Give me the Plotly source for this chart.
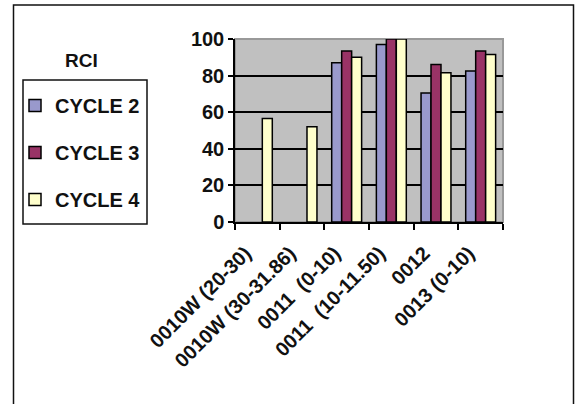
import plotly.graph_objects as go

categories = ["0010W (20-30)", "0010W (30-31.86)", "0011\u00a0 (0-10)",
              "0011\u00a0 (10-11.50)", "0012", "0013 (0-10)"]
cycle2 = [None, None, 87, 97, 70.5, 82.5]
cycle3 = [None, None, 93.5, 100, 86, 93.5]
cycle4 = [56.5, 52, 90, 100, 81.5, 91.5]
series_names = ["CYCLE 2", "CYCLE 3", "CYCLE 4"]
series_colors = ["#9999CC", "#993366", "#FFFFCC"]
y_ticks = [0, 20, 40, 60, 80, 100]

FONT = "Liberation Sans, Arial, sans-serif"
W, H = 577, 404

fig = go.Figure()
for name, vals, col in zip(series_names, [cycle2, cycle3, cycle4], series_colors):
    fig.add_trace(go.Bar(
        x=categories, y=vals, name="<b>" + name + "</b>", legendgroup=name,
        marker=dict(color=col, line=dict(color="#000000", width=1.5)),
    ))

# plot area in page pixels: x 235..503, y 39..222
L, R, T, B = 235, 503, 39, 222
pw, ph = R - L, B - T
def px(x):
    return (x - L) / pw
def py(y):
    return (B - y) / ph

fig.update_layout(
    width=W, height=H,
    margin=dict(l=L, r=W - R, t=T, b=H - B, pad=0),
    paper_bgcolor="white", plot_bgcolor="#C0C0C0",
    barmode="group", bargap=0.33, bargroupgap=0,
    font=dict(family=FONT, color="#111111"),
    showlegend=True,
    legend=dict(
        x=px(15), y=py(86), xanchor="left", yanchor="top",
        bgcolor="rgba(0,0,0,0)", borderwidth=0,
        font=dict(family=FONT, size=20, color="#111111"),
        traceorder="grouped", tracegroupgap=18,
        itemwidth=30,
    ),
    xaxis=dict(
        tickson="boundaries", ticks="outside", ticklen=6, tickcolor="#000",
        tickwidth=1.5, showline=True, linecolor="#000", linewidth=1.5,
        tickangle=-45, showgrid=False,
        ticklabelstandoff=10, ticklabelshift=-12,
        tickfont=dict(family=FONT, size=20, color="#111111"),
        tickvals=categories, ticktext=["<b>" + c + "</b>" for c in categories],
    ),
    yaxis=dict(
        range=[0, 100], tickvals=y_ticks,
        ticktext=["<b>%d</b>" % v for v in y_ticks],
        ticks="outside", ticklen=5,
        tickcolor="#000", tickwidth=1.5, showline=True, linecolor="#000",
        linewidth=1.5, showgrid=True, gridcolor="#000", gridwidth=1.5,
        zeroline=False,
        tickfont=dict(family=FONT, size=20, color="#111111"),
    ),
    annotations=[dict(
        text="<b>RCI</b>", xref="paper", yref="paper", x=px(81), y=py(60),
        xanchor="center", yanchor="middle", showarrow=False,
        font=dict(family=FONT, size=19, color="#111111"),
    )],
    shapes=[
        dict(type="rect", xref="paper", yref="paper", x0=0, x1=1, y0=0, y1=1,
             line=dict(color="#999999", width=2), layer="below"),
        dict(type="rect", xref="paper", yref="paper",
             x0=px(23), x1=px(147), y0=py(80), y1=py(224),
             line=dict(color="#111111", width=1.5), layer="above"),
        dict(type="rect", xref="paper", yref="paper",
             x0=px(13.5), x1=px(573.5), y0=py(5), y1=py(430),
             line=dict(color="#111111", width=1.5), layer="above"),
    ],
)

fig.write_html("out.html", config={"displayModeBar": False},
               post_script="document.body.style.margin='0px';")
